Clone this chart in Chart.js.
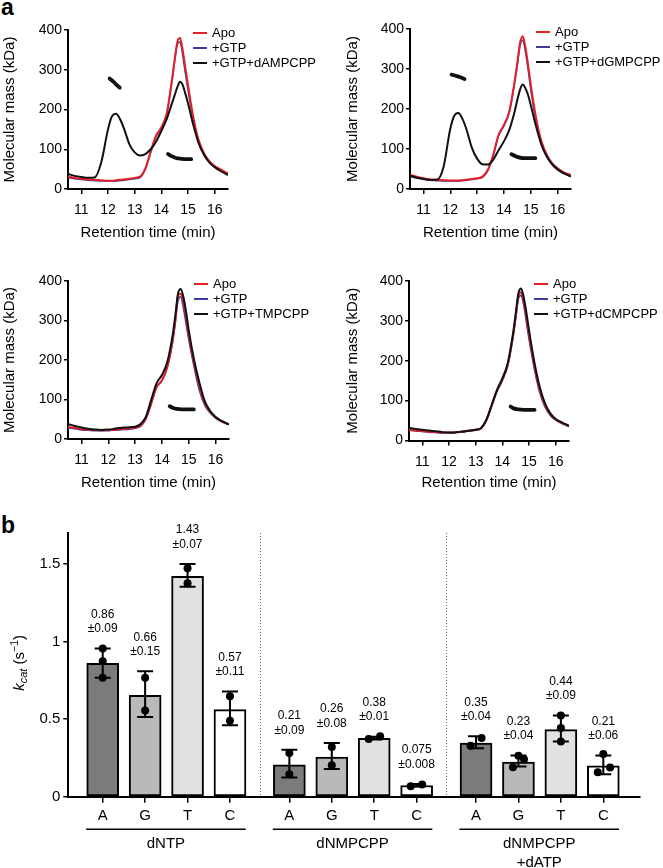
<!DOCTYPE html>
<html><head><meta charset="utf-8">
<script src="https://cdn.jsdelivr.net/npm/chart.js@4.4.1/dist/chart.umd.min.js"></script>
<style>
html,body{margin:0;padding:0;background:#fff}
body{width:663px;height:868px;position:relative;overflow:hidden;font-family:"Liberation Sans",Arial,sans-serif}
canvas{position:absolute}
.plbl{position:absolute;font-weight:bold;font-size:23px;line-height:23px;color:#000}
</style></head><body>
<div class="plbl" style="left:1px;top:-4px">a</div>
<div class="plbl" style="left:1px;top:514px">b</div>
<canvas id="c1" width="331" height="245" style="left:0;top:0"></canvas>
<canvas id="c2" width="332" height="245" style="left:331px;top:0"></canvas>
<canvas id="c3" width="331" height="245" style="left:0;top:250px"></canvas>
<canvas id="c4" width="332" height="245" style="left:331px;top:250px"></canvas>
<canvas id="c5" width="663" height="368" style="left:0;top:500px"></canvas>
<script>
// ---------- Panel a data ----------
const timeMin = [10.5,10.75,11,11.25,11.5,11.75,12,12.15,12.3,12.45,12.6,12.8,13,13.2,13.4,13.6,13.8,14,14.2,14.4,14.5,14.6,14.7,14.8,14.9,15,15.2,15.4,15.6,15.8,16,16.25,16.5];
const timeTicks = [11,12,13,14,15,16];
const massTicks = [0,100,200,300,400];
const seriesNames = ['Apo','+GTP'];
const ligandNames = ['+GTP+dAMPCPP','+GTP+dGMPCPP','+GTP+TMPCPP','+GTP+dCMPCPP'];

const apo1  = [31,28,26,24,23,22,21,21,22,23,24,26,28,31,52,94,134,155,190,275,325,370,380,350,305,262,180,123,90,70,58,48,39];
const gtp1  = [29,26,24,22,21,20,20,20,20,21,22,24,26,29,50,92,132,153,186,272,322,364,370,338,292,250,172,117,86,67,55,46,37];
const lig1  = [38,33,30,28,29,68,150,183,189,176,152,113,92,84,88,100,119,146,176,216,236,256,270,262,240,216,161,115,86,67,55,44,35];
const massT1a = [12.06,12.2,12.32,12.44];
const massV1a = [278,270,262,255];
const massT1b = [14.25,14.4,14.55,14.75,14.95,15.12];
const massV1b = [88,82,78,76,75,75];

const apo2  = [35,31,27,24,23,22,21,21,21,22,23,25,27,31,48,85,135,160,194,269,315,365,382,355,311,261,177,119,85,64,52,41,35];
const gtp2  = [32,28,25,22,21,20,20,20,20,21,22,24,26,29,46,83,133,158,192,266,311,358,372,345,300,250,168,112,80,60,48,38,32];
const lig2  = [33,28,25,23,23,55,150,183,190,176,150,104,76,62,61,73,97,119,148,194,223,248,261,252,235,210,156,110,81,62,49,39,31];
const massT2a = [12.05,12.2,12.35,12.53];
const massV2a = [286,283,280,275];
const massT2b = [14.28,14.4,14.55,14.75,15.0,15.17];
const massV2b = [87,83,79,77,77,77];

const apo3  = [31,28,25,24,23,22,23,23,24,25,26,27,29,34,52,90,132,149,183,250,300,364,368,347,309,263,191,132,90,69,55,44,37];
const gtp3  = [28,26,23,22,21,21,21,22,22,23,24,25,27,32,50,88,130,147,181,246,296,350,360,332,292,252,182,122,85,66,53,43,36];
const lig3  = [38,33,29,26,24,23,24,25,27,28,29,30,31,38,56,99,141,162,195,263,313,368,380,360,322,275,200,142,95,71,56,45,37];
const massT3 = [14.29,14.4,14.55,14.75,15.0,15.19];
const massV3 = [83,79,76,75,75,75];

const apo4  = [27,25,24,22,21,20,20,20,21,22,23,25,27,31,51,88,125,153,190,262,310,362,372,350,310,265,188,127,88,66,53,44,36];
const gtp4  = [26,24,23,21,20,19,19,19,20,21,22,24,26,30,50,86,123,150,187,258,305,355,364,340,298,255,180,121,84,63,51,42,35];
const lig4  = [32,29,27,25,23,21,20,20,21,22,23,25,27,31,52,89,127,156,193,268,318,368,381,360,322,277,197,135,93,68,54,45,37];
const massT4 = [14.31,14.45,14.6,14.8,15.0,15.21];
const massV4 = [85,80,78,77,77,77];

// ---------- Panel b data ----------
const catLabels = ['A','G','T','C','A','G','T','C','A','G','T','C'];
const catPos    = [0,1,2,3, 4.4,5.4,6.4,7.4, 8.8,9.8,10.8,11.8];
const kcatMean  = [0.859,0.654,1.421,0.561, 0.205,0.255,0.376,0.072, 0.346,0.223,0.432,0.199];
const errLow    = [0.767,0.514,1.354,0.46, 0.123,0.179,0.368,0.066, 0.313,0.194,0.356,0.145];
const errHigh   = [0.955,0.808,1.50,0.678, 0.302,0.346,0.387,0.082, 0.389,0.266,0.523,0.266];
const valueText = ['0.86','0.66','1.43','0.57','0.21','0.26','0.38','0.075','0.35','0.23','0.44','0.21'];
const sdText    = ['±0.09','±0.15','±0.07','±0.11','±0.09','±0.08','±0.01','±0.008','±0.04','±0.04','±0.09','±0.06'];
const barFill   = ['#7b7b7b','#b9b9b9','#e1e1e1','#ffffff','#7b7b7b','#b9b9b9','#e1e1e1','#ffffff','#7b7b7b','#b9b9b9','#e1e1e1','#ffffff'];
const repBar = [0,0,0, 1,1, 2,2, 3,3, 4,4, 5,5, 6,6, 7,7, 8,8, 9,9,9, 10,10,10, 11,11,11];
const repDx  = [0,0,0, 0,0, 0,0, 0,0, 0,0, 0,0, -0.13,0.14, -0.14,0.13, -0.13,0.13, 0,0.13,-0.13, 0,0,0, 0,0.16,-0.13];
const repVal = [0.955,0.874,0.767, 0.767,0.555, 1.473,1.376, 0.648,0.49, 0.281,0.145, 0.32,0.203, 0.372,0.389, 0.068,0.079, 0.328,0.378, 0.264,0.242,0.19, 0.523,0.443,0.356, 0.275,0.188,0.158];
const groupNames = [['dNTP'],['dNMPCPP'],['dNMPCPP','+dATP']];
const groupBars  = [[0,3],[4,7],[8,11]];
const kcatTicks  = [0,0.5,1,1.5];

// ---------- common ----------
const FAM = '"Liberation Sans", Arial, Helvetica, sans-serif';
Chart.defaults.font.family = FAM;
Chart.defaults.color = '#000';
const RED = '#e41f26', BLUE = '#3d3d9e', BLACK = '#111111';

const miniLegend = {
  id: 'miniLegend',
  afterDraw(chart) {
    const {ctx, chartArea} = chart;
    const x0 = chartArea.right - 35;
    ctx.save();
    ctx.font = '13px ' + FAM;
    ctx.textBaseline = 'middle';
    ctx.textAlign = 'left';
    let row = 0;
    chart.data.datasets.forEach(ds => {
      if (!ds.label) return;
      const y = chartArea.top + 3 + row * 15;
      ctx.strokeStyle = ds.borderColor; ctx.lineWidth = 2;
      ctx.beginPath(); ctx.moveTo(x0, y); ctx.lineTo(x0 + 14, y); ctx.stroke();
      ctx.fillStyle = '#000';
      ctx.fillText(ds.label, x0 + 19, y + 0.5);
      row++;
    });
    ctx.restore();
  }
};

const pts = (xs, ys) => xs.map((x, i) => ({x, y: ys[i]}));

function chrom(id, apo, gtp, lig, ligName, segs, geo) {
  const datasets = [
    {label: seriesNames[0], data: pts(timeMin, apo), borderColor: RED, borderWidth: 2, order: 2},
    {label: seriesNames[1], data: pts(timeMin, gtp), borderColor: BLUE, borderWidth: 1.6, order: 3},
    {label: ligName, data: pts(timeMin, lig), borderColor: BLACK, borderWidth: 2, order: 1}
  ];
  segs.forEach(s => datasets.push({data: pts(s[0], s[1]), borderColor: BLACK, borderWidth: 3.8, order: 0, borderCapStyle: 'round'}));
  datasets.forEach(d => { d.pointRadius = 0; d.cubicInterpolationMode = 'monotone'; d.fill = false; });
  return new Chart(document.getElementById(id), {
    type: 'line',
    data: {datasets},
    options: {
      responsive: false, animation: false, events: [],
      layout: {padding: {left: 0, right: geo.right, top: geo.top, bottom: 0}},
      plugins: {legend: {display: false}, tooltip: {enabled: false}},
      scales: {
        x: {
          type: 'linear', min: 10.5, max: 16.5,
          afterBuildTicks: s => { s.ticks = timeTicks.map(v => ({value: v})); },
          afterFit: s => { s.height = geo.xh; },
          grid: {drawOnChartArea: false, drawTicks: true, tickLength: 5, color: '#000', lineWidth: 1.5},
          border: {display: true, color: '#000', width: 2},
          ticks: {font: {size: 14}, padding: 8, maxRotation: 0, autoSkip: false, color: '#000'},
          title: {display: true, text: 'Retention time (min)', font: {size: 15}, color: '#000', padding: {top: 0, bottom: 3}}
        },
        y: {
          min: 0, max: 400,
          afterBuildTicks: s => { s.ticks = massTicks.map(v => ({value: v})); },
          afterFit: s => { s.width = geo.yw; },
          grid: {drawOnChartArea: false, drawTicks: true, tickLength: 4, color: '#000', lineWidth: 1.5},
          border: {display: true, color: '#000', width: 2},
          ticks: {font: {size: 14}, padding: 2, color: '#000'},
          title: {display: true, text: 'Molecular mass (kDa)', font: {size: 15}, color: '#000', padding: {top: geo.tp, bottom: 0}}
        }
      }
    },
    plugins: [miniLegend]
  });
}

chrom('c1', apo1, gtp1, lig1, ligandNames[0], [[massT1a, massV1a], [massT1b, massV1b]], {right: 103, top: 30, xh: 56, yw: 68, tp: 1});
chrom('c2', apo2, gtp2, lig2, ligandNames[1], [[massT2a, massV2a], [massT2b, massV2b]], {right: 92, top: 29, xh: 56, yw: 79, tp: 13});
chrom('c3', apo3, gtp3, lig3, ligandNames[2], [[massT3, massV3]], {right: 102, top: 31, xh: 56, yw: 68, tp: 1});
chrom('c4', apo4, gtp4, lig4, ligandNames[3], [[massT4, massV4]], {right: 94, top: 31, xh: 54.5, yw: 78, tp: 13});

// ---------- Panel b ----------
const barDeco = {
  id: 'barDeco',
  afterDatasetsDraw(chart) {
    const {ctx, scales: {x, y}, chartArea} = chart;
    ctx.save();
    ctx.strokeStyle = '#666'; ctx.lineWidth = 1; ctx.setLineDash([1, 2]);
    for (let g = 0; g < groupBars.length - 1; g++) {
      const mid = (catPos[groupBars[g][1]] + catPos[groupBars[g + 1][0]]) / 2;
      const px = Math.round(x.getPixelForValue(mid)) + 0.5;
      ctx.beginPath(); ctx.moveTo(px, chartArea.top); ctx.lineTo(px, chartArea.bottom); ctx.stroke();
    }
    ctx.setLineDash([]);
    ctx.strokeStyle = '#000'; ctx.lineWidth = 2;
    ctx.fillStyle = '#000';
    ctx.font = '12px ' + FAM; ctx.textAlign = 'center'; ctx.textBaseline = 'middle';
    catPos.forEach((p, i) => {
      const px = x.getPixelForValue(p);
      const yl = y.getPixelForValue(errLow[i]), yh = y.getPixelForValue(errHigh[i]);
      ctx.beginPath();
      ctx.moveTo(px, yl); ctx.lineTo(px, yh);
      ctx.moveTo(px - 8, yl); ctx.lineTo(px + 8, yl);
      ctx.moveTo(px - 8, yh); ctx.lineTo(px + 8, yh);
      ctx.stroke();
      ctx.fillText(valueText[i], px, yh - 34);
      ctx.fillText(sdText[i], px, yh - 19.5);
    });
    ctx.restore();
  },
  afterDraw(chart) {
    const {ctx, scales: {x}, chartArea} = chart;
    ctx.save();
    ctx.strokeStyle = '#000'; ctx.lineWidth = 1.5; ctx.fillStyle = '#000';
    ctx.font = '15px ' + FAM; ctx.textAlign = 'center'; ctx.textBaseline = 'middle';
    groupBars.forEach((gb, g) => {
      const x1 = x.getPixelForValue(catPos[gb[0]] - 0.39), x2 = x.getPixelForValue(catPos[gb[1]] + 0.37);
      const ly = chartArea.bottom + 32.5;
      ctx.beginPath(); ctx.moveTo(x1, ly); ctx.lineTo(x2, ly); ctx.stroke();
      groupNames[g].forEach((t, k) => ctx.fillText(t, (x1 + x2) / 2, chartArea.bottom + 47 + k * 18.7));
    });
    const parts = [
      {t: 'k', f: 'italic 15px ' + FAM, dy: 0},
      {t: 'cat', f: 'italic 11px ' + FAM, dy: 3.5},
      {t: ' (s', f: '15px ' + FAM, dy: 0},
      {t: '\u22121', f: '10.5px ' + FAM, dy: -6},
      {t: ')', f: '15px ' + FAM, dy: 0}
    ];
    let total = 0;
    parts.forEach(p => { ctx.font = p.f; p.w = ctx.measureText(p.t).width; total += p.w; });
    ctx.translate(23.5, (chartArea.top + chartArea.bottom) / 2 - 2);
    ctx.rotate(-Math.PI / 2);
    ctx.textAlign = 'left'; ctx.textBaseline = 'alphabetic';
    let cx = -total / 2;
    parts.forEach(p => { ctx.font = p.f; ctx.fillText(p.t, cx, p.dy); cx += p.w; });
    ctx.restore();
  }
};

new Chart(document.getElementById('c5'), {
  type: 'bar',
  data: {
    datasets: [
      {type: 'bar', data: pts(catPos, kcatMean), backgroundColor: barFill, borderColor: '#000', borderWidth: 2, borderSkipped: false, barThickness: 32, order: 2},
      {type: 'scatter', data: repBar.map((b, i) => ({x: catPos[b] + repDx[i], y: repVal[i]})), pointRadius: 4, pointBackgroundColor: '#000', pointBorderColor: '#000', pointBorderWidth: 0, order: 0}
    ]
  },
  options: {
    responsive: false, animation: false, events: [],
    layout: {padding: {left: 0, right: 23, top: 33, bottom: 0}},
    plugins: {legend: {display: false}, tooltip: {enabled: false}},
    scales: {
      x: {
        type: 'linear', min: -0.811, max: 12.665, offset: false,
        afterBuildTicks: s => { s.ticks = catPos.map(v => ({value: v})); },
        afterFit: s => { s.height = 71.3; },
        grid: {offset: false, drawOnChartArea: false, drawTicks: true, tickLength: 6, color: '#000', lineWidth: 1.5},
        border: {display: true, color: '#000', width: 2},
        ticks: {font: {size: 15}, padding: 4, autoSkip: false, maxRotation: 0, color: '#000',
          callback: v => { const i = catPos.indexOf(v); return i >= 0 ? catLabels[i] : ''; }}
      },
      y: {
        min: 0, max: 1.7,
        afterBuildTicks: s => { s.ticks = kcatTicks.map(v => ({value: v})); },
        afterFit: s => { s.width = 68.3; },
        grid: {drawOnChartArea: false, drawTicks: true, tickLength: 5, color: '#000', lineWidth: 1.5},
        border: {display: true, color: '#000', width: 2},
        ticks: {font: {size: 15}, padding: 3, color: '#000', callback: v => String(v)}
      }
    }
  },
  plugins: [barDeco]
});
</script>
</body></html>
